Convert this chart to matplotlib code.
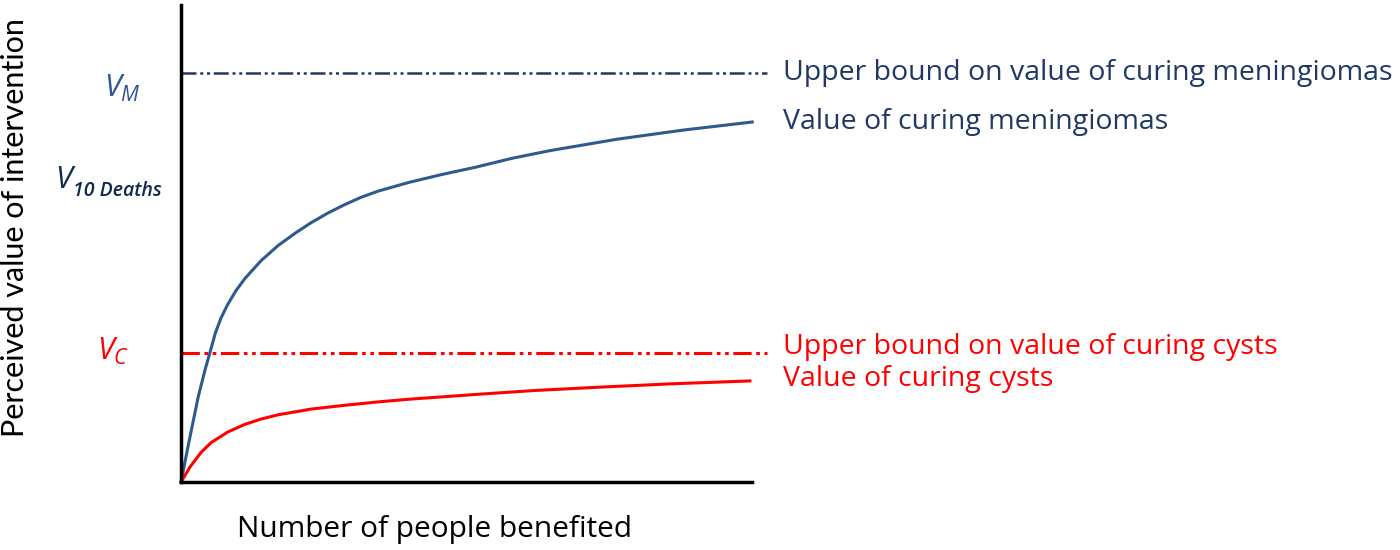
import numpy as np
import matplotlib
matplotlib.use("Agg")
import matplotlib.pyplot as plt

plt.rcParams['font.family'] = ['Open Sans', 'DejaVu Sans']
plt.rcParams['mathtext.fontset'] = 'custom'
plt.rcParams['mathtext.it'] = 'Open Sans:italic'
plt.rcParams['mathtext.rm'] = 'Open Sans'

# values (x, y both on a 0-100 scale)
x_mening = [0, 1.2, 3.0, 4.2, 5.1, 6.0, 7.0, 8.2, 9.6, 11.2, 14.0, 17.0, 20.0, 22.8, 25.7,
            28.7, 31.5, 34.5, 39.8, 45.7, 51.5, 58.0, 64.6, 76.4, 87.9, 100]
y_mening = [0, 7.3, 17.8, 23.5, 27.3, 31.2, 34.4, 37.3, 40.1, 42.7, 46.4, 49.6, 52.2, 54.4, 56.4,
            58.2, 59.7, 61.0, 62.8, 64.5, 66.0, 67.9, 69.5, 71.9, 73.8, 75.5]

x_cysts = [0, 1.6, 3.5, 5.3, 8.2, 11.2, 14.0, 17.0, 22.8, 28.7, 34.5, 40.3, 46.2, 52.0, 62.0,
           73.4, 86.0, 99.6]
y_cysts = [0, 3.2, 6.2, 8.3, 10.5, 12.1, 13.2, 14.1, 15.3, 16.1, 16.8, 17.4, 17.9, 18.4, 19.2,
           19.9, 20.6, 21.2]

v_mening_bound = 85.7
v_cysts_bound = 27.0

navy = '#1F3864'
blue = '#2E5A8C'
red = '#FF0000'

fig = plt.figure(figsize=(14, 5.5), dpi=100)
ax = fig.add_axes([0.1293, 0.1236, 0.408, 0.867])

dashdotdot = (0, (6, 1.5, 1.2, 1.5, 1.2, 1.5))
ax.plot([0, 102.5], [v_mening_bound] * 2, color=navy, lw=1.8, ls=dashdotdot, clip_on=False)
ax.plot([0, 102.5], [v_cysts_bound] * 2, color=red, lw=2.2, ls=dashdotdot, clip_on=False)
ax.plot(x_mening, y_mening, color=blue, lw=2.2, clip_on=False)
ax.plot(x_cysts, y_cysts, color=red, lw=2.2, clip_on=False)

ax.set_xlim(0, 100)
ax.set_ylim(0, 100)
ax.set_xticks([])
ax.set_yticks([])
for s in ['top', 'right']:
    ax.spines[s].set_visible(False)
for s in ['left', 'bottom']:
    ax.spines[s].set_linewidth(2.5)

fs = 20.5
ax.text(105.4, v_mening_bound, "Upper bound on value of curing meningiomas", color=navy,
        fontsize=fs, va='center', clip_on=False)
ax.text(105.4, y_mening[-1], "Value of curing meningiomas", color=navy,
        fontsize=fs, va='center', clip_on=False)
ax.text(105.4, v_cysts_bound + 1.3, "Upper bound on value of curing cysts", color=red,
        fontsize=fs, va='center', clip_on=False)
ax.text(105.4, y_cysts[-1] + 0.3, "Value of curing cysts", color=red,
        fontsize=fs, va='center', clip_on=False)

ax.text(-10.2, 82.6, r"$V_M$", color='#2F5597', fontsize=22, ha='center', va='center', clip_on=False)
vd = ax.text(-22.1, 63.3, "V", color='#102A50', fontsize=22, style='italic', ha='left',
             va='center', clip_on=False)
ax.annotate("10 Deaths", xy=(1, 0), xycoords=vd, xytext=(1, -4), textcoords='offset points',
            color='#102A50', fontsize=14, style='italic', fontweight='semibold',
            ha='left', va='bottom')
ax.text(-14.7, 27.3, r"$V_C$", color=red, fontsize=22, ha='left', va='center', clip_on=False)

fig.text(15 / 1400, 1 - 228 / 550, "Perceived value of intervention", rotation=90,
         fontsize=22, ha='center', va='center', family=['Lato', 'DejaVu Sans'])
fig.text(435 / 1400, 1 - 530 / 550, "Number of people benefited", fontsize=21.5,
         ha='center', va='center')

fig.savefig("out.png", dpi=100)
